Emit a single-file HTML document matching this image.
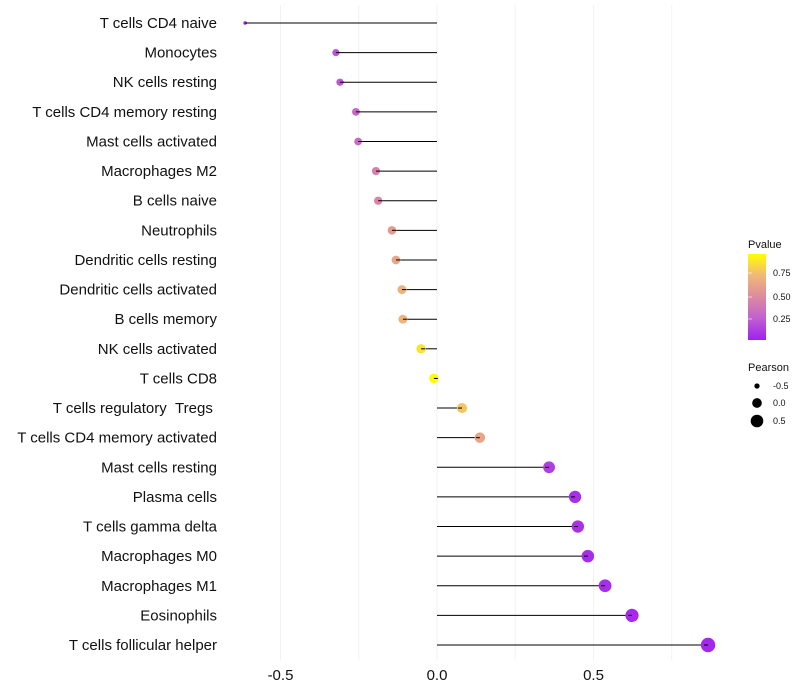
<!DOCTYPE html>
<html><head><meta charset="utf-8"><style>
body{margin:0;background:#fff;font-family:"Liberation Sans",sans-serif}
svg{display:block}
</style></head><body>
<svg id="chart" width="800" height="700" xmlns="http://www.w3.org/2000/svg">
<defs><linearGradient id="pg" x1="0" y1="1" x2="0" y2="0">
<stop offset="0" stop-color="#a020f0"/><stop offset="0.25" stop-color="#c060d0"/><stop offset="0.5" stop-color="#dd8aa0"/><stop offset="0.75" stop-color="#f0b878"/><stop offset="1" stop-color="#ffff00"/>
</linearGradient></defs>
<g id="grid"></g><g id="marks"></g><g id="labels"></g><g id="legend"></g>
</svg>
<script>
const categories=["T cells CD4 naive","Monocytes","NK cells resting","T cells CD4 memory resting","Mast cells activated","Macrophages M2","B cells naive","Neutrophils","Dendritic cells resting","Dendritic cells activated","B cells memory","NK cells activated","T cells CD8","T cells regulatory\u00a0\u00a0Tregs\u00a0","T cells CD4 memory activated","Mast cells resting","Plasma cells","T cells gamma delta","Macrophages M0","Macrophages M1","Eosinophils","T cells follicular helper"];
const pearson=[-0.613,-0.323,-0.31,-0.259,-0.252,-0.195,-0.188,-0.144,-0.131,-0.112,-0.109,-0.051,-0.01,0.08,0.137,0.358,0.441,0.45,0.482,0.537,0.623,0.866];
const pvalue=[0.02,0.2,0.22,0.3,0.32,0.45,0.47,0.6,0.65,0.72,0.73,0.9,0.99,0.8,0.65,0.12,0.06,0.07,0.05,0.06,0.04,0.03];
const xTicks=[-0.5,0,0.5];
const xTickLabels=["-0.5","0.0","0.5"];
const gridVals=[-0.5,-0.25,0,0.25,0.5,0.75];
const NS="http://www.w3.org/2000/svg";
const X=v=>437+v*313;
const Y=i=>23+i*(645-23)/21;
const stops=[[0,[160,32,240]],[0.25,[192,96,208]],[0.5,[221,138,160]],[0.75,[240,184,120]],[1,[255,255,0]]];
function col(p){for(let k=1;k<stops.length;k++){if(p<=stops[k][0]){const a=stops[k-1],b=stops[k],t=(p-a[0])/(b[0]-a[0]);return "rgb("+a[1].map((c,j)=>Math.round(c+(b[1][j]-c)*t)).join(",")+")";}}return "rgb(255,255,0)";}
const pmin=Math.min(...pearson),pmax=Math.max(...pearson);
function rad(v){const t=(v-pmin)/(pmax-pmin);return Math.sqrt(3.24+48.6*t);}
function mk(tag,attrs,parent){const e=document.createElementNS(NS,tag);for(const k in attrs)e.setAttribute(k,attrs[k]);parent.appendChild(e);return e;}
const grid=document.getElementById('grid'),marks=document.getElementById('marks'),labels=document.getElementById('labels'),legend=document.getElementById('legend');
gridVals.forEach(g=>{const l=mk('line',{x1:X(g),x2:X(g),y1:5,y2:660,stroke:'#f2f2f2','stroke-width':1},grid);

});
xTicks.forEach((t,i)=>{const e=mk('text',{x:X(t),y:680,'text-anchor':'middle','font-size':15,fill:'#111'},labels);e.textContent=xTickLabels[i];

});
categories.forEach((c,i)=>{const y=Y(i);
const t=mk('text',{x:217,y:y+5,'text-anchor':'end','font-size':15,fill:'#111'},labels);t.textContent=c;


const l=mk('line',{x1:X(0),x2:X(pearson[i]),y1:y,y2:y,stroke:'#000','stroke-width':1},marks);


const d=mk('circle',{cx:X(pearson[i]),cy:y,r:rad(pearson[i]),fill:col(pvalue[i])},marks);


const s=mk('line',{x1:X(pearson[i]),x2:X(pearson[i])+(pearson[i]<0?4:-4),y1:y,y2:y,stroke:'#000','stroke-width':1},marks);

});
let t=mk('text',{x:748,y:248,'font-size':11,fill:'#111'},legend);t.textContent='Pvalue';


const bar=mk('rect',{x:748,y:254,width:18,height:86,fill:'url(#pg)'},legend);


[[0.75,273],[0.5,297],[0.25,319]].forEach(([v,y])=>{const e=mk('text',{x:773,y:y+3,'font-size':9,fill:'#111'},legend);e.textContent=v.toFixed(2);


const k=mk('line',{x1:748,x2:752,y1:y,y2:y,stroke:'#fff','stroke-opacity':0.6},legend);
});
t=mk('text',{x:748,y:371,'font-size':11,fill:'#111'},legend);t.textContent='Pearson';


[[-0.5,386,"-0.5"],[0,403,"0.0"],[0.5,421,"0.5"]].forEach(([v,y,lab])=>{const c=mk('circle',{cx:757,cy:y,r:rad(v),fill:'#000'},legend);


const e=mk('text',{x:773,y:y+3,'font-size':9,fill:'#111'},legend);e.textContent=lab;

});
</script>
</body></html>
